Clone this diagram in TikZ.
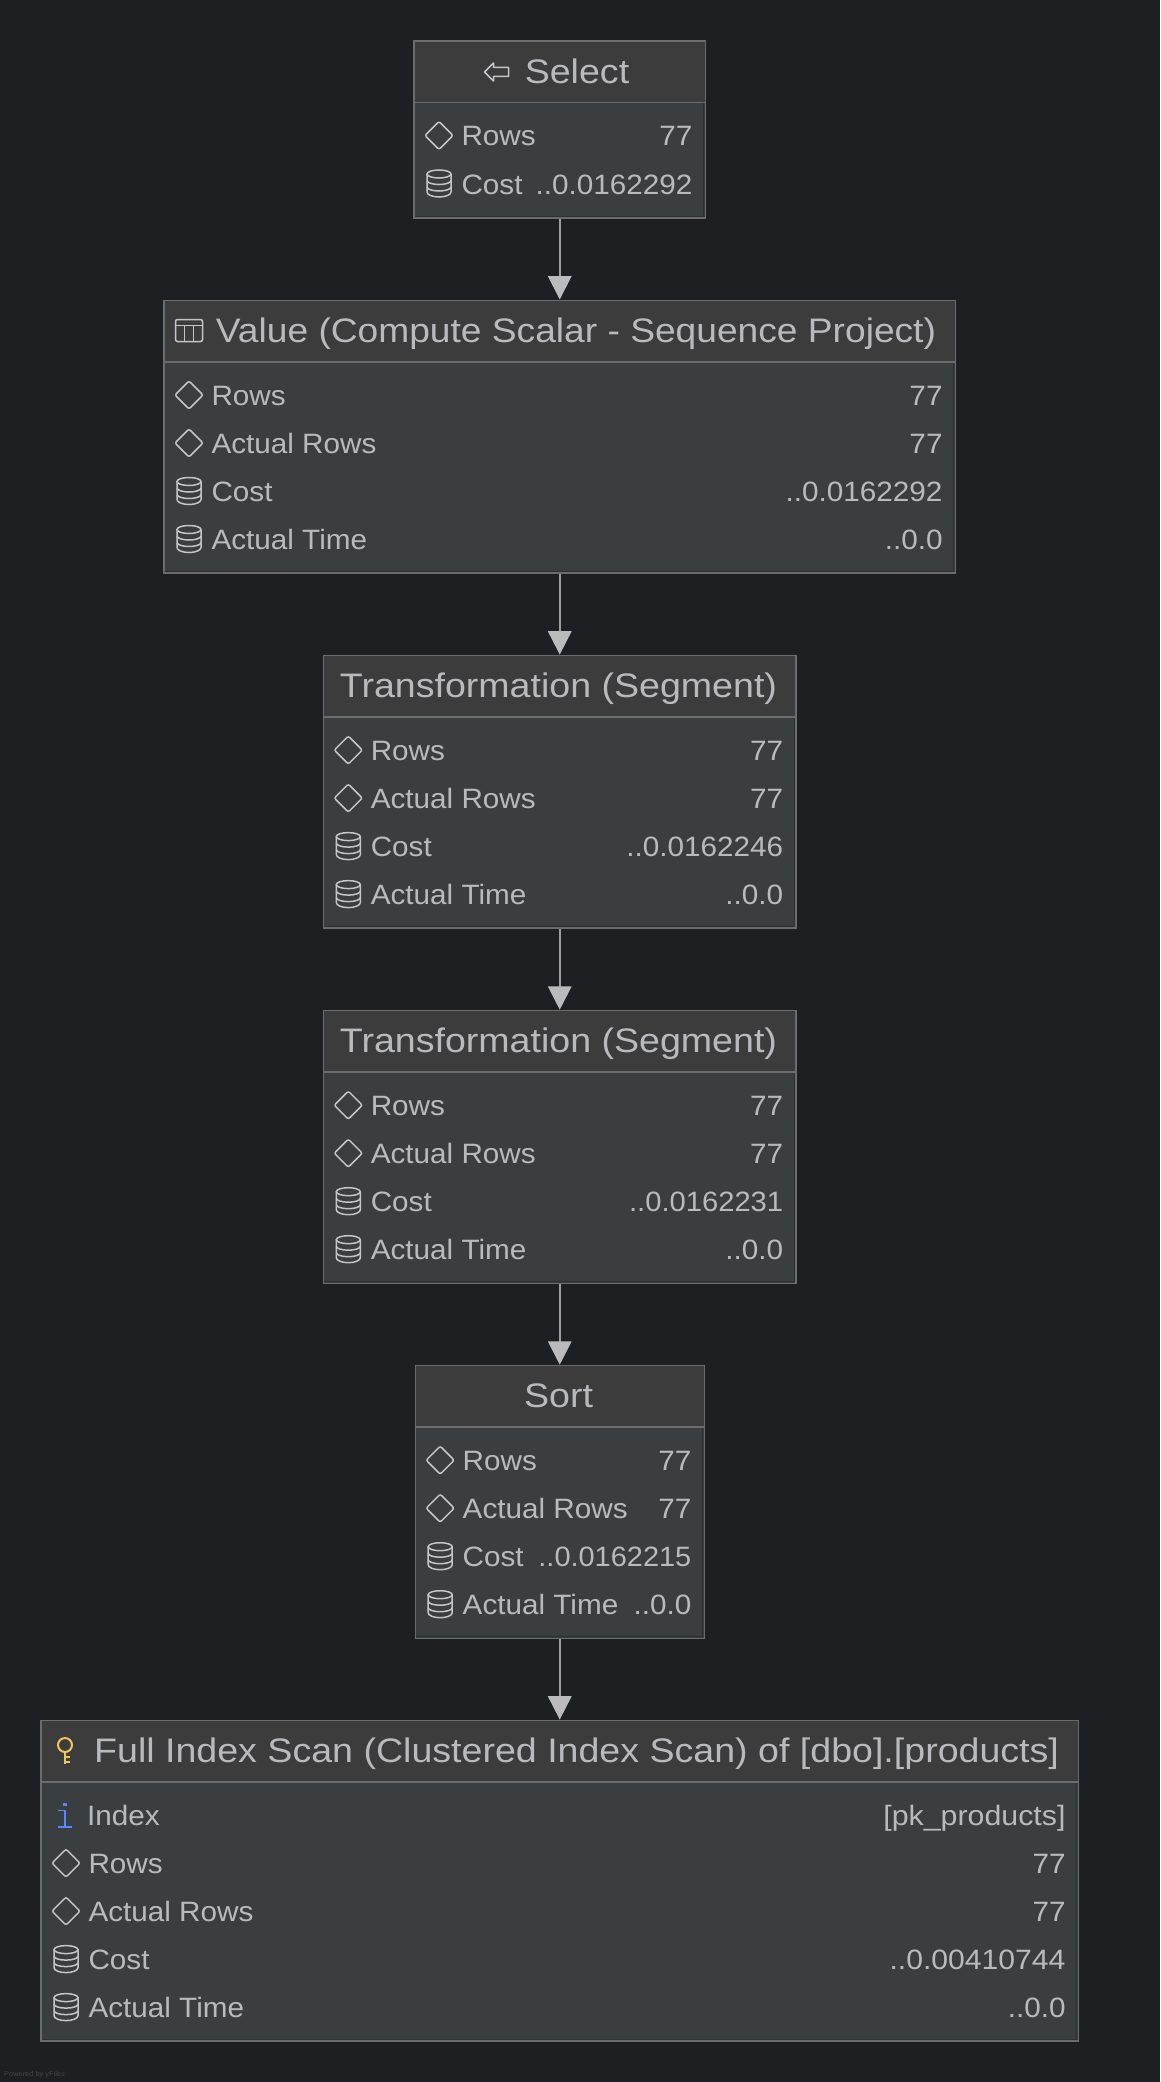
\documentclass[tikz,border=0pt]{standalone}
\usepackage{fontspec}
\setmainfont[FakeStretch=1.06]{Liberation Sans}
\newfontfamily\titlefam[FakeStretch=1.105]{Liberation Sans}
\usetikzlibrary{arrows.meta}
\definecolor{bgc}{HTML}{1E1F22}
\definecolor{headc}{HTML}{3D3C3C}
\definecolor{bodyc}{HTML}{3B3E41}
\definecolor{linec}{HTML}{6B6C6C}
\definecolor{innerc}{HTML}{2E3033}
\definecolor{textc}{HTML}{B9BABE}
\definecolor{iconc}{HTML}{C4C5C8}
\definecolor{edgec}{HTML}{9D9E9F}
\definecolor{headtip}{HTML}{BBBBBB}
\definecolor{keyc}{HTML}{F2C55C}
\definecolor{infoc}{HTML}{548AF7}
\definecolor{tinyc}{HTML}{45464A}
\tikzset{
  x=1pt,y=-1pt,
  opbox/.style={draw=linec,line width=1.5pt,fill=none,inner sep=0pt,anchor=north west},
  titletext/.style={text=textc,font=\titlefam\fontsize{34}{40}\selectfont,anchor=base,inner sep=0pt},
  labeltext/.style={text=textc,font=\fontsize{28}{34}\selectfont,anchor=base west,inner sep=0pt},
  valuetext/.style={text=textc,font=\fontsize{28}{34}\selectfont,anchor=base east,inner sep=0pt},
  iconline/.style={draw=iconc,line width=1.5pt,fill=none},
  edgeline/.style={draw=edgec,line width=2pt,xshift=0.5pt,-{Triangle[width=23.4pt,length=23.4pt,fill=headtip,color=headtip]},shorten >=0pt},
}
% name, left, right, top, rows
\newcommand{\opnode}[5]{%
  \pgfmathsetmacro{\boxh}{80.8+48*#5}
  \pgfmathsetmacro{\boxw}{#3-#2}
  \fill[headc] (#2,#4) rectangle (#3,#4+62.4);
  \fill[bodyc] (#2,#4+62.4) rectangle (#3,#4+\boxh);
  \draw[draw=innerc,line width=0.8pt] (#2+1.1,#4+63) -- (#2+1.1,#4+\boxh-1.1) -- (#3-1.1,#4+\boxh-1.1) -- (#3-1.1,#4+63);
  \node[opbox,minimum width=\boxw pt,minimum height=\boxh pt] (#1) at (#2,#4) {};
  \draw[draw=linec,line width=1.5pt] (#2,#4+62.4) -- (#3,#4+62.4);
}
\newcommand{\icondiamond}[2]{%
  \draw[iconline,rounded corners=2pt] (#1-14,#2) -- (#1,#2-14) -- (#1+14,#2) -- (#1,#2+14) -- cycle;}
\newcommand{\iconcyl}[2]{%
  \begin{scope}[shift={(#1,#2)}]
  \draw[iconline] (0,-9.5) ellipse [x radius=12, y radius=4];
  \draw[iconline] (-12,-9.5) -- (-12,8.5) arc[start angle=180,end angle=360,x radius=12,y radius=-5] -- (12,-9.5);
  \draw[iconline] (-12,-3) arc[start angle=180,end angle=360,x radius=12,y radius=-4];
  \draw[iconline] (-12,3.5) arc[start angle=180,end angle=360,x radius=12,y radius=-4];
  \end{scope}}
% node-left, node-right, baseline, icon, label, value
\newcommand{\oprow}[6]{%
  \csname icon#4\endcsname{#1+25.7}{#3-9.5}
  \node[labeltext] at (#1+48,#3+1) {#5};
  \node[valuetext] at (#2-12,#3+1) {#6};
}
\begin{document}
\begin{tikzpicture}
\useasboundingbox (0,0) rectangle (1160,2082);
\fill[bgc] (0,0) rectangle (1160,2082);

% Select
\opnode{sel}{413.3}{704.7}{40.3}{2}
\begin{scope}[shift={(496.5,72)}]
  \draw[iconline,line join=round] (-12,0) -- (-3,-9) -- (-3,-4.5) -- (12,-4.5) -- (12,4.5) -- (-3,4.5) -- (-3,9) -- cycle;
\end{scope}
\node[titletext] (selt) at (577,84) {Select};
\oprow{413.3}{704.7}{145}{diamond}{Rows}{77}
\oprow{413.3}{704.7}{193}{cyl}{Cost}{..0.0162292}

% Value
\opnode{val}{163.3}{954.7}{299.5}{4}
\begin{scope}[shift={(189,330.5)}]
  \draw[iconline,rounded corners=2pt] (-13.5,-11) rectangle (13.5,11);
  \draw[iconline] (-13.5,-5) -- (13.5,-5) (-4.5,-5) -- (-4.5,11) (4.5,-5) -- (4.5,11);
\end{scope}
\node[titletext] (valt) at (576,342.5) {\scalebox{0.989}[1]{Value (Compute Scalar - Sequence Project)}};
\oprow{163.3}{954.7}{404.5}{diamond}{Rows}{77}
\oprow{163.3}{954.7}{452.5}{diamond}{Actual Rows}{77}
\oprow{163.3}{954.7}{500.5}{cyl}{Cost}{..0.0162292}
\oprow{163.3}{954.7}{548.5}{cyl}{Actual Time}{..0.0}

% Segment 1
\opnode{segA}{322.6}{795.4}{654.6}{4}
\node[titletext] (segAt) at (558.5,697.6) {Transformation (Segment)};
\oprow{322.6}{795.4}{759.6}{diamond}{Rows}{77}
\oprow{322.6}{795.4}{807.6}{diamond}{Actual Rows}{77}
\oprow{322.6}{795.4}{855.6}{cyl}{Cost}{..0.0162246}
\oprow{322.6}{795.4}{903.6}{cyl}{Actual Time}{..0.0}

% Segment 2
\opnode{segB}{322.6}{795.4}{1009.7}{4}
\node[titletext] (segBt) at (558.5,1052.7) {Transformation (Segment)};
\oprow{322.6}{795.4}{1114.7}{diamond}{Rows}{77}
\oprow{322.6}{795.4}{1162.7}{diamond}{Actual Rows}{77}
\oprow{322.6}{795.4}{1210.7}{cyl}{Cost}{\scalebox{0.983}[1]{..0.0162231}}
\oprow{322.6}{795.4}{1258.7}{cyl}{Actual Time}{..0.0}

% Sort
\opnode{sort}{414.5}{703.5}{1364.7}{4}
\node[titletext] (sortt) at (558.5,1407.7) {Sort};
\oprow{414.5}{703.5}{1469.7}{diamond}{Rows}{77}
\oprow{414.5}{703.5}{1517.7}{diamond}{Actual Rows}{77}
\oprow{414.5}{703.5}{1565.7}{cyl}{Cost}{\scalebox{0.975}[1]{..0.0162215}}
\oprow{414.5}{703.5}{1613.7}{cyl}{Actual Time}{..0.0}

% Full scan
\opnode{scan}{40.3}{1077.7}{1719.6}{5}
\begin{scope}[shift={(65,1750.5)}]
  \draw[draw=keyc,line width=2pt] (0,-5.5) circle (7);
  \draw[draw=keyc,line width=2pt] (0,1.5) -- (0,13) (0,6.5) -- (5,6.5) (0,11.5) -- (5,11.5);
\end{scope}
\node[titletext,anchor=base west] (scant) at (94,1762.6) {Full Index Scan (Clustered Index Scan) of [dbo].[products]};
\begin{scope}[shift={(65,1815)}]
  \fill[infoc] (-2,-12.5) rectangle (2,-9);
  \draw[draw=infoc,line width=1.6pt] (-7,-4.5) -- (0,-4.5) -- (0,12) (-7,12) -- (7,12);
\end{scope}
\node[labeltext] at (87,1825.6) {Index};
\node[valuetext] at (1065.7,1825.6) {\scalebox{1.022}[1]{[pk\_products]}};
\oprow{40.3}{1077.7}{1872.6}{diamond}{Rows}{77}
\oprow{40.3}{1077.7}{1920.6}{diamond}{Actual Rows}{77}
\oprow{40.3}{1077.7}{1968.6}{cyl}{Cost}{\scalebox{1.015}[1]{..0.00410744}}
\oprow{40.3}{1077.7}{2016.6}{cyl}{Actual Time}{..0.0}

\node[text=tinyc,font=\fontsize{7}{8}\selectfont,anchor=base west,inner sep=0pt] (brand) at (4,2076) {Powered by yFiles};

\draw[edgeline] (sel.south) -- (val.north);
\draw[edgeline] (val.south) -- (segA.north);
\draw[edgeline] (segA.south) -- (segB.north);
\draw[edgeline] (segB.south) -- (sort.north);
\draw[edgeline] (sort.south) -- (scan.north);
\end{tikzpicture}
\end{document}
